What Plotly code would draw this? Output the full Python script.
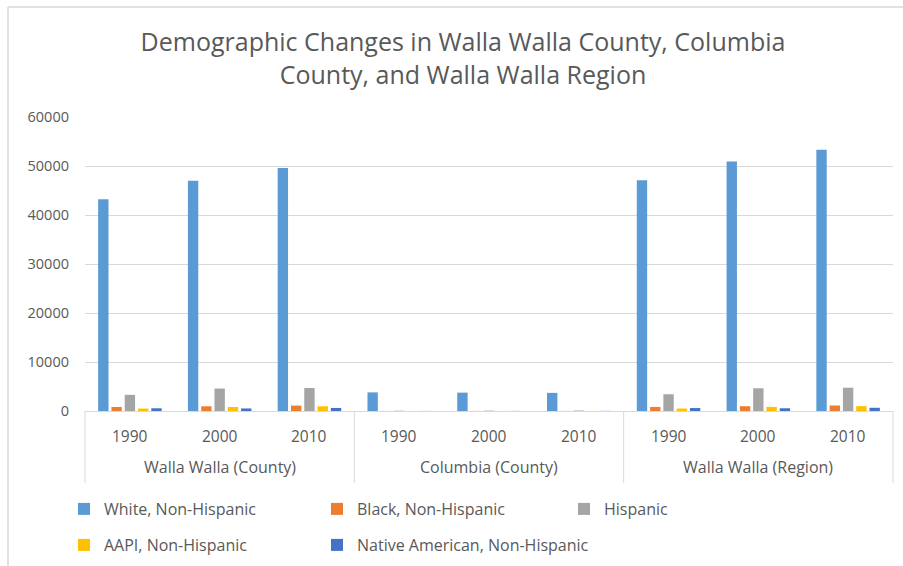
import plotly.graph_objects as go

regions = ["Walla Walla (County)"] * 3 + ["Columbia (County)"] * 3 + ["Walla Walla (Region)"] * 3
years = ["1990", "2000", "2010"] * 3

white = [43200, 47000, 49600, 3800, 3750, 3700, 47100, 50900, 53300]
black = [820, 960, 1100, 10, 12, 15, 830, 980, 1120]
hispanic = [3300, 4580, 4700, 60, 80, 100, 3420, 4640, 4750]
aapi = [490, 820, 960, 10, 12, 15, 500, 840, 990]
native = [560, 520, 620, 15, 18, 20, 600, 560, 660]

series = [
    ("White, Non-Hispanic", white, "rgba(91,155,213,0.999)", "legend2"),
    ("Black, Non-Hispanic", black, "rgba(237,125,49,0.999)", "legend3"),
    ("Hispanic", hispanic, "rgba(165,165,165,0.999)", "legend4"),
    ("AAPI, Non-Hispanic", aapi, "rgba(255,192,0,0.999)", "legend5"),
    ("Native American, Non-Hispanic", native, "rgba(68,114,196,0.999)", "legend6"),
]

FONT = "Open Sans"
TXT = "#595959"
GRID = "#D9D9D9"

fig = go.Figure()
for name, vals, col, lg in series:
    fig.add_trace(go.Bar(x=[regions, years], y=vals, name=name,
                         marker=dict(color=col, line=dict(width=0)), legend=lg))

W, H = 903, 566
L, R, T, B = 85, 10, 117, 155
pw = W - L - R
ph = H - T - B

def px_x(px):
    return (px - L) / pw

def px_y(py):
    return (H - B - py) / ph

legfont = dict(family=FONT, size=16, color=TXT)
def leg(xpx, ypx):
    return dict(x=px_x(xpx), y=px_y(ypx), xanchor="left", yanchor="middle",
                font=legfont, bgcolor="rgba(0,0,0,0)", orientation="h")

# category axis labels (two levels) and dividers
n = len(years)
annotations = []
for i, yr in enumerate(years):
    annotations.append(dict(text=yr, xref="paper", yref="paper", x=(i + 0.5) / n, y=px_y(436),
                            xanchor="center", yanchor="middle", showarrow=False,
                            font=dict(family=FONT, size=15.5, color=TXT)))
groups = []
for r in regions:
    if r not in groups:
        groups.append(r)
gsize = n // len(groups)
for k, g in enumerate(groups):
    annotations.append(dict(text=g, xref="paper", yref="paper", x=(k * gsize + gsize / 2) / n, y=px_y(467),
                            xanchor="center", yanchor="middle", showarrow=False,
                            font=dict(family=FONT, size=16, color=TXT)))

shapes = [
    dict(type="line", xref="paper", yref="paper", x0=px_x(8), x1=px_x(903), y0=px_y(7), y1=px_y(7),
         line=dict(color=GRID, width=1.5)),
    dict(type="line", xref="paper", yref="paper", x0=px_x(8), x1=px_x(8), y0=px_y(7), y1=px_y(566),
         line=dict(color=GRID, width=1.5)),
]
for k in range(len(groups) + 1):
    shapes.append(dict(type="line", xref="paper", yref="paper", x0=k / len(groups), x1=k / len(groups),
                       y0=0, y1=px_y(483), line=dict(color=GRID, width=1)))

fig.update_layout(
    width=W, height=H,
    margin=dict(l=L, r=R, t=T, b=B, autoexpand=False),
    paper_bgcolor="white", plot_bgcolor="white",
    barmode="group", bargap=0.26, bargroupgap=0.22,
    title=dict(text="Demographic Changes in Walla Walla County, Columbia<br>County, and Walla Walla Region",
               x=463 / W, xanchor="center", xref="container",
               y=1 - 51 / H, yanchor="middle", yref="container",
               font=dict(family=FONT, size=25, color=TXT)),
    font=dict(family=FONT, color=TXT),
    showlegend=True,
    legend2=leg(64, 509),
    legend3=leg(317, 509),
    legend4=leg(564, 509),
    legend5=leg(64, 545),
    legend6=leg(317, 545),
    xaxis=dict(type="multicategory", showticklabels=False, showdividers=False,
               showline=True, linecolor=GRID, linewidth=1, automargin=False,
               showgrid=False, ticks="", mirror=False),
    yaxis=dict(range=[0, 60000], tickvals=[0, 10000, 20000, 30000, 40000, 50000, 60000],
               ticktext=["0", "10000", "20000", "30000", "40000", "50000", "60000"],
               showgrid=True, gridcolor=GRID, gridwidth=1, zeroline=False, automargin=False,
               showline=False, ticks="", ticklabelstandoff=15,
               tickfont=dict(family=FONT, size=14.5, color=TXT)),
    annotations=annotations,
    shapes=shapes,
)

fig.write_html("out.html")
